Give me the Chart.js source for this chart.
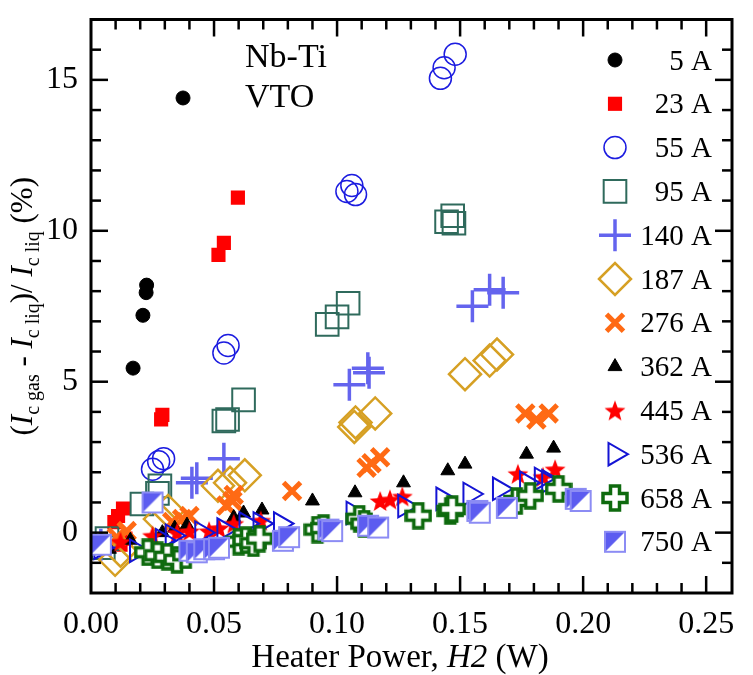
<!DOCTYPE html>
<html>
<head>
<meta charset="utf-8">
<script src="https://cdn.jsdelivr.net/npm/chart.js@4.4.1/dist/chart.umd.min.js"></script>
<style>
  html, body { margin: 0; padding: 0; background: #fff; }
</style>
</head>
<body>
<canvas id="chart" width="753" height="675"></canvas>
<script>
// currents shown in the legend
const seriesNames = ['5 A', '23 A', '55 A', '95 A', '140 A', '187 A', '276 A', '362 A', '445 A', '536 A', '658 A', '750 A'];
const xTicks = [0, 0.05, 0.10, 0.15, 0.20, 0.25];
const yTicks = [0, 5, 10, 15];

// [heater power W, change in Ic %]
const d5 = [[0.0171, 5.45], [0.0211, 7.2], [0.0224, 7.95], [0.0226, 8.2], [0.0374, 14.4]];
const d23 = [[0.0095, 0.35], [0.011, 0.55], [0.013, 0.8], [0.012, -0.4], [0.014, -0.2], [0.0285, 3.75], [0.029, 3.9], [0.0518, 9.2], [0.054, 9.6], [0.0597, 11.1]];
const d55 = [[0.025, 2.1], [0.0275, 2.35], [0.0295, 2.45], [0.054, 5.95], [0.0557, 6.2], [0.104, 11.3], [0.106, 11.5], [0.1075, 11.2], [0.142, 15.05], [0.1435, 15.4], [0.148, 15.85]];
const d95 = [[0.005, -0.5], [0.0065, -0.2], [0.0207, 0.95], [0.027, 1.3], [0.028, 1.55], [0.054, 3.7], [0.0555, 3.75], [0.062, 4.4], [0.096, 6.9], [0.100, 7.15], [0.1045, 7.6], [0.1445, 10.3], [0.147, 10.5], [0.1475, 10.25]];
const d140 = [[0.004, -0.4], [0.041, 1.65], [0.043, 1.8], [0.054, 2.45], [0.105, 4.9], [0.1125, 5.45], [0.113, 5.3], [0.155, 7.5], [0.162, 8.05], [0.1675, 7.95]];
const d187 = [[0.0098, -0.9], [0.012, -0.6], [0.028, 0.45], [0.0313, 0.72], [0.0516, 1.55], [0.0565, 1.65], [0.0625, 1.9], [0.107, 3.5], [0.1075, 3.65], [0.1155, 3.95], [0.152, 5.25], [0.162, 5.7], [0.165, 5.9]];
const d276 = [[0.0105, -0.15], [0.0145, 0.05], [0.033, 0.35], [0.037, 0.45], [0.040, 0.55], [0.055, 0.9], [0.0575, 1.05], [0.058, 1.25], [0.0817, 1.38], [0.112, 2.15], [0.114, 2.3], [0.1175, 2.5], [0.1765, 3.95], [0.181, 3.75], [0.186, 3.95]];
const d362 = [[0.0075, -0.55], [0.016, -0.25], [0.029, 0.0], [0.034, 0.15], [0.039, 0.25], [0.058, 0.5], [0.062, 0.65], [0.0695, 0.75], [0.090, 1.05], [0.1073, 1.32], [0.127, 1.65], [0.145, 2.05], [0.152, 2.27], [0.177, 2.6], [0.188, 2.8]];
const d445 = [[0.012, -0.3], [0.025, -0.1], [0.035, 0.0], [0.040, 0.05], [0.048, 0.05], [0.052, 0.15], [0.058, 0.3], [0.069, 0.4], [0.1175, 1.05], [0.1215, 1.1], [0.1265, 1.2], [0.1735, 1.95], [0.1837, 1.85], [0.1886, 2.1]];
const d536 = [[0.004, -0.5], [0.0185, -0.6], [0.029, -0.25], [0.033, -0.1], [0.045, 0.0], [0.054, 0.1], [0.063, 0.3], [0.0687, 0.3], [0.077, 0.3], [0.1065, 0.65], [0.1275, 0.88], [0.143, 1.12], [0.154, 1.28], [0.166, 1.45], [0.177, 1.65], [0.183, 1.78], [0.186, 1.7]];
const d658 = [[0.023, -0.65], [0.027, -0.75], [0.031, -0.8], [0.035, -0.9], [0.0385, -0.75], [0.060, -0.3], [0.063, -0.25], [0.066, -0.35], [0.0685, -0.2], [0.092, 0.1], [0.0945, 0.15], [0.109, 0.46], [0.111, 0.3], [0.133, 0.56], [0.146, 0.72], [0.1468, 0.78], [0.173, 1.05], [0.1785, 1.22], [0.19, 1.45]];
const d750 = [[0.004, -0.4], [0.025, 1.0], [0.040, -0.6], [0.043, -0.65], [0.046, -0.55], [0.050, -0.55], [0.052, -0.5], [0.078, -0.27], [0.0805, -0.15], [0.0965, 0.1], [0.098, 0.05], [0.1126, 0.23], [0.1167, 0.17], [0.157, 0.72], [0.158, 0.66], [0.169, 0.82], [0.197, 1.12], [0.199, 1.05]];

const FONT = "'Liberation Serif', 'Times New Roman', serif";

// marker pictures that chart.js has no built-in style for
const makeStar = (r, color) => {
    const s = Math.ceil(r * 2 + 2);
    const c = document.createElement('canvas');
    c.width = s; c.height = s;
    const g = c.getContext('2d');
    g.translate(s / 2, s / 2 + r * 0.1);
    g.beginPath();
    for (let i = 0; i < 10; i++) {
        const rr = i % 2 ? r * 0.42 : r;
        const a = -Math.PI / 2 + i * Math.PI / 5;
        g.lineTo(rr * Math.cos(a), rr * Math.sin(a));
    }
    g.closePath();
    g.fillStyle = color;
    g.fill();
    return c;
};

const makePlus = (size, arm, color) => {
    const c = document.createElement('canvas');
    c.width = size + 4; c.height = size + 4;
    const g = c.getContext('2d');
    const h = size / 2, a = arm / 2;
    g.translate(c.width / 2, c.height / 2);
    g.beginPath();
    g.moveTo(-a, -h); g.lineTo(a, -h); g.lineTo(a, -a); g.lineTo(h, -a); g.lineTo(h, a); g.lineTo(a, a);
    g.lineTo(a, h); g.lineTo(-a, h); g.lineTo(-a, a); g.lineTo(-h, a); g.lineTo(-h, -a); g.lineTo(-a, -a);
    g.closePath();
    g.fillStyle = '#fff';
    g.fill();
    g.lineWidth = 3.5;
    g.lineJoin = 'miter';
    g.strokeStyle = color;
    g.stroke();
    return c;
};

const makeHalfSquare = (size, fill, edge) => {
    const c = document.createElement('canvas');
    c.width = size + 2; c.height = size + 2;
    const g = c.getContext('2d');
    g.fillStyle = '#fff';
    g.fillRect(1, 1, size, size);
    g.beginPath();
    g.moveTo(1, 1); g.lineTo(size + 1, 1); g.lineTo(1, size + 1);
    g.closePath();
    g.fillStyle = fill;
    g.fill();
    g.lineWidth = 2;
    g.strokeStyle = edge;
    g.strokeRect(2, 2, size - 2, size - 2);
    return c;
};

const styles = [
    {pointStyle: 'circle', radius: 7, bg: '#000', border: '#000', bw: 1},
    {pointStyle: 'rect', radius: 10, bg: '#ff0000', border: '#ff0000', bw: 0},
    {pointStyle: 'circle', radius: 11, bg: 'transparent', border: '#1c1ce0', bw: 1.5},
    {pointStyle: 'rect', radius: 16, bg: 'transparent', border: '#2f6a5c', bw: 2},
    {pointStyle: 'cross', radius: 16, bg: 'transparent', border: '#6464ee', bw: 3.5},
    {pointStyle: 'rectRot', radius: 16, bg: 'transparent', border: '#d6a024', bw: 2.5},
    {pointStyle: 'crossRot', radius: 12, bg: 'transparent', border: '#ff6a14', bw: 5},
    {pointStyle: 'triangle', radius: 8, bg: '#000', border: '#000', bw: 1},
    {pointStyle: makeStar(11, '#ff0000'), radius: 11, bg: '#ff0000', border: '#ff0000', bw: 0},
    {pointStyle: 'triangle', radius: 13, rotation: 90, bg: 'transparent', border: '#1414d4', bw: 2},
    {pointStyle: makePlus(24, 9, '#0e6a0e'), radius: 12, bg: '#fff', border: '#0e6a0e', bw: 0},
    {pointStyle: makeHalfSquare(22, '#5c5cf0', '#8c8cf4'), radius: 11, bg: '#5c5cf0', border: '#8c8cf4', bw: 0},
];

const seriesData = [d5, d23, d55, d95, d140, d187, d276, d362, d445, d536, d658, d750];

// ticks pointing inward on all four sides
const frameTicks = {
    id: 'frameTicks',
    afterDraw(chart) {
        const {ctx, chartArea: a, scales: {x, y}} = chart;
        ctx.save();
        ctx.strokeStyle = '#000';
        ctx.lineWidth = 2.5;
        const seg = (x1, y1, x2, y2) => {
            ctx.beginPath(); ctx.moveTo(x1, y1); ctx.lineTo(x2, y2); ctx.stroke();
        };
        for (let i = 1; i < 26; i++) {
            const px = x.getPixelForValue(i / 100);
            const len = i % 5 === 0 ? 17 : 10;
            seg(px, a.bottom, px, a.bottom - len);
            seg(px, a.top, px, a.top + len);
        }
        for (let v = -1; v < 17; v++) {
            const py = y.getPixelForValue(v);
            const len = v % 5 === 0 ? 17 : 10;
            seg(a.left, py, a.left + len, py);
            seg(a.right, py, a.right - len, py);
        }
        ctx.lineWidth = 3;
        ctx.strokeRect(a.left, a.top, a.right - a.left, a.bottom - a.top);
        ctx.restore();
    }
};

// draws a run of text pieces: [text, italic, subscript]
const drawRuns = (ctx, runs, size, x, y, align) => {
    const fontOf = (r) => `${r[1] ? 'italic ' : ''}${r[2] ? Math.round(size * 0.66) : size}px ${FONT}`;
    let total = 0;
    for (const r of runs) { ctx.font = fontOf(r); total += ctx.measureText(r[0]).width; }
    let cx = align === 'center' ? x - total / 2 : x;
    ctx.textAlign = 'left';
    ctx.textBaseline = 'alphabetic';
    for (const r of runs) {
        ctx.font = fontOf(r);
        ctx.fillText(r[0], cx, y + (r[2] ? size * 0.22 : 0));
        cx += ctx.measureText(r[0]).width;
    }
};

const annotations = {
    id: 'annotations',
    afterDraw(chart) {
        const {ctx, chartArea: a} = chart;
        ctx.save();
        ctx.fillStyle = '#000';

        // x axis title
        drawRuns(ctx, [['Heater Power, ', false, false], ['H2', true, false], [' (W)', false, false]], 33, 400, 667, 'center');

        // y axis title
        ctx.save();
        ctx.translate(32, (a.top + a.bottom) / 2);
        ctx.rotate(-Math.PI / 2);
        drawRuns(ctx, [
            ['(', false, false], ['I', true, false], ['c gas', false, true],
            [' - ', false, false], ['I', true, false], ['c liq', false, true],
            [')/ ', false, false], ['I', true, false], ['c liq', false, true],
            [' (%)', false, false]
        ], 31, 0, 0, 'center');
        ctx.restore();

        // sample label
        ctx.font = `34px ${FONT}`;
        ctx.textAlign = 'left';
        ctx.textBaseline = 'alphabetic';
        ctx.fillText('Nb-Ti', 245, 67);
        ctx.fillText('VTO', 245, 107);

        // legend
        ctx.font = `29px ${FONT}`;
        ctx.textAlign = 'right';
        ctx.textBaseline = 'middle';
        seriesNames.forEach((name, i) => {
            const st = styles[i];
            const ly = 60 + i * 43.8;
            ctx.fillStyle = st.bg;
            ctx.strokeStyle = st.border;
            ctx.lineWidth = st.bw;
            Chart.helpers.drawPoint(ctx, {pointStyle: st.pointStyle, radius: st.radius, rotation: st.rotation || 0, borderWidth: st.bw}, 615, ly);
            ctx.fillStyle = '#000';
            ctx.fillText(name, 712, ly + 2);
        });
        ctx.restore();
    }
};

const datasets = seriesData.map((d, i) => ({
    label: seriesNames[i],
    data: d.map(p => ({x: p[0], y: p[1]})),
    pointStyle: styles[i].pointStyle,
    pointRadius: styles[i].radius,
    pointRotation: styles[i].rotation || 0,
    backgroundColor: styles[i].bg,
    borderColor: styles[i].border,
    borderWidth: styles[i].bw,
    showLine: false,
    order: seriesData.length - i,
}));

const tickFont = {family: FONT, size: 32};

new Chart(document.getElementById('chart'), {
    type: 'scatter',
    data: {datasets},
    options: {
        responsive: false,
        animation: false,
        devicePixelRatio: 1,
        events: [],
        layout: {padding: {left: 0, top: 15, right: 21, bottom: 0}},
        plugins: {legend: {display: false}, tooltip: {enabled: false}},
        scales: {
            x: {
                type: 'linear',
                min: 0,
                max: 0.2605,
                grid: {display: false, drawTicks: false},
                border: {display: false},
                afterBuildTicks: (s) => { s.ticks = xTicks.map(v => ({value: v})); },
                afterFit: (s) => { s.height = 82; s.paddingLeft = 0; s.paddingRight = 0; },
                ticks: {color: '#000', font: tickFont, padding: 12, maxRotation: 0, callback: (v) => Number(v).toFixed(2)},
            },
            y: {
                type: 'linear',
                min: -2,
                max: 17,
                grid: {display: false, drawTicks: false},
                border: {display: false},
                afterBuildTicks: (s) => { s.ticks = yTicks.map(v => ({value: v})); },
                afterFit: (s) => { s.width = 91; s.paddingTop = 0; s.paddingBottom = 0; },
                ticks: {color: '#000', font: tickFont, padding: 13, callback: (v) => String(v)},
            },
        },
    },
    plugins: [frameTicks, annotations],
});
</script>
</body>
</html>
